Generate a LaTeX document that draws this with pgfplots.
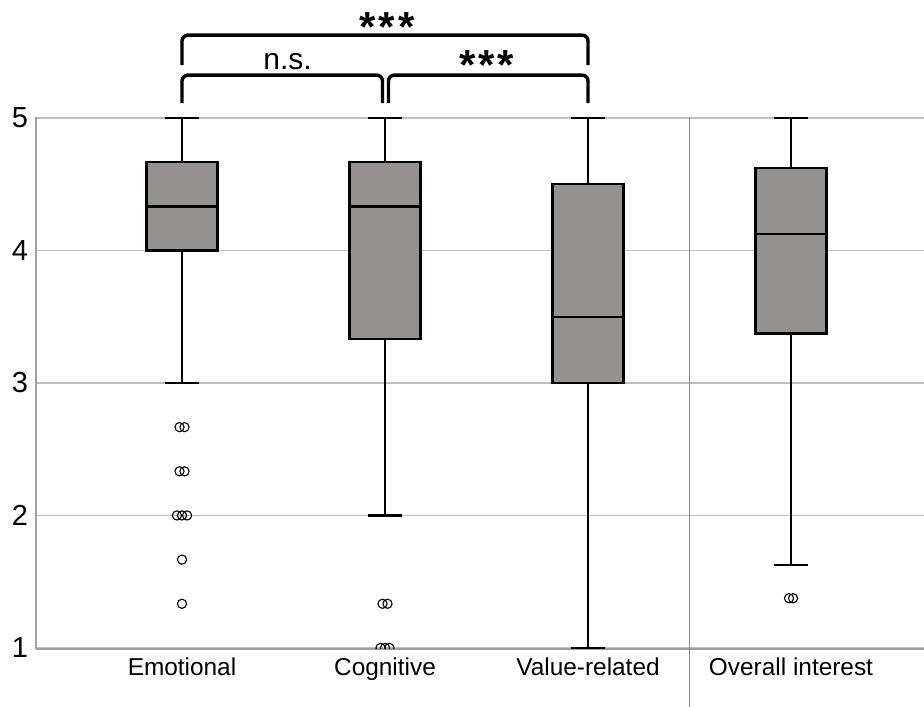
\documentclass[border=0pt]{standalone}
\usepackage{fontspec}
\setmainfont{Liberation Sans}
\usepackage{pgfplots}
\pgfplotsset{compat=1.18}
\usepgfplotslibrary{statistics}
\usetikzlibrary{calc}
\definecolor{boxfill}{RGB}{149,145,144}
\definecolor{gridc}{RGB}{192,192,192}
\definecolor{axc}{RGB}{160,160,160}
\definecolor{sepc}{RGB}{140,140,140}
\begin{document}
\begin{tikzpicture}
\begin{axis}[
  scale only axis, width=444pt, height=266pt,
  xmin=0.2808, xmax=4.655, ymin=0.992, ymax=5.008,
  axis lines*=left,
  axis line style={axc, line width=0.7pt},
  ytick={1,2,3,4,5},
  xtick={1,2,3,4},
  xticklabels={Emotional,Cognitive,Value-related,Overall interest},
  major tick length=0pt,
  ymajorgrids,
  grid style={gridc, line width=0.6pt},
  /pgf/number format/assume math mode=true,
  yticklabel style={font=\fontsize{14.5}{17}\selectfont, xshift=-0.5pt},
  xticklabel style={font=\fontsize{12.2}{14}\selectfont, yshift=-1pt},
  clip marker paths=true,
  boxplot/draw direction=y,
]
\addplot[draw=black, line width=1.2pt, fill=boxfill,
  boxplot prepared={draw position=1, lower whisker=3, lower quartile=4,
    median=4.3333, upper quartile=4.6667, upper whisker=5,
    box extend=0.35, whisker extend=0.17}] coordinates {};
\addplot[draw=black, line width=1.2pt, fill=boxfill,
  boxplot prepared={draw position=2, lower whisker=2, lower quartile=3.3333,
    median=4.3333, upper quartile=4.6667, upper whisker=5,
    box extend=0.35, whisker extend=0.17}] coordinates {};
\addplot[draw=black, line width=1.2pt, fill=boxfill,
  boxplot prepared={draw position=3, lower whisker=1, lower quartile=3,
    median=3.5, upper quartile=4.5, upper whisker=5,
    box extend=0.35, whisker extend=0.17}] coordinates {};
\addplot[draw=black, line width=1.2pt, fill=boxfill,
  boxplot prepared={draw position=4, lower whisker=1.625, lower quartile=3.375,
    median=4.125, upper quartile=4.625, upper whisker=5,
    box extend=0.35, whisker extend=0.17}] coordinates {};
% outliers
\addplot[only marks, mark=o, mark size=2.3pt, draw=black, line width=0.55pt] coordinates {
  (0.9877,2.6667) (1.0123,2.6667)
  (0.9877,2.3333) (1.0123,2.3333)
  (0.975,2) (1,2) (1.025,2)
  (1,1.6667) (1,1.3333)
  (1.9877,1.3333) (2.0123,1.3333)
  (1.978,1) (2,1) (2.022,1)
  (3.99,1.375) (4.01,1.375)
};
\coordinate (E) at (axis cs:1,5);
\coordinate (C) at (axis cs:2,5);
\coordinate (V) at (axis cs:3,5);
\coordinate (S5) at (axis cs:3.5,5);
\coordinate (S1) at (axis cs:3.5,0.992);
\coordinate (SW) at (rel axis cs:0,0);
\coordinate (NE) at (rel axis cs:1,1);
\end{axis}
% separator
\draw[sepc, line width=0.8pt] (S5) -- ([yshift=-30pt]S1);
% brackets
\draw[line width=1.7pt, rounded corners=3pt]
  ([yshift=7.5pt]E) -- ([yshift=21.5pt]E) -- ([xshift=-1.25pt,yshift=21.5pt]C) -- ([xshift=-1.25pt,yshift=7.5pt]C);
\draw[line width=1.7pt, rounded corners=3pt]
  ([xshift=1.75pt,yshift=7.5pt]C) -- ([xshift=1.75pt,yshift=21.5pt]C) -- ([yshift=21.5pt]V) -- ([yshift=7.5pt]V);
\draw[line width=1.7pt, rounded corners=3pt]
  ([yshift=26.5pt]E) -- ([yshift=41.5pt]E) -- ([yshift=41.5pt]V) -- ([yshift=26.5pt]V);
\node[anchor=base, font=\fontsize{15}{18}\selectfont, inner sep=0pt] at ($(E)!0.5!(C)+(2pt,24.5pt)$) {n.s.};
\node[anchor=base, font=\fontsize{21}{26}\selectfont\bfseries, inner sep=0pt] at ($(C)!0.5!(V)+(0pt,19.5pt)$) {*\kern1.5pt*\kern1.5pt*};
\node[anchor=base, font=\fontsize{21}{26}\selectfont\bfseries, inner sep=0pt] at ($(E)!0.5!(V)+(1pt,38.5pt)$) {*\kern1.5pt*\kern1.5pt*};
\pgfresetboundingbox
\path ($(SW)+(-18pt,-29pt)$) rectangle ($(NE)+(0pt,58.5pt)$);
\end{tikzpicture}
\end{document}
